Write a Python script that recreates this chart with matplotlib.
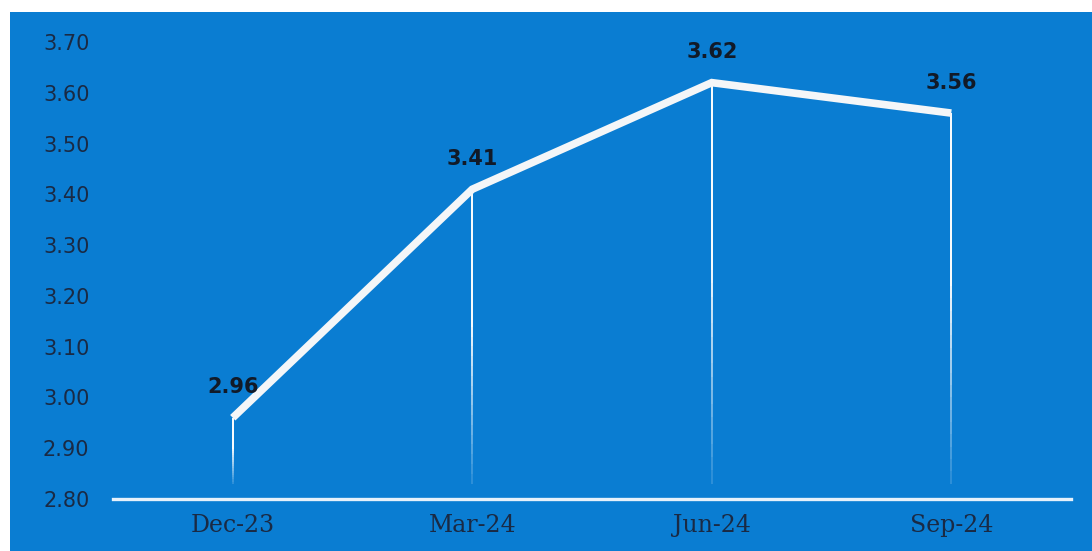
import numpy as np
import matplotlib.pyplot as plt
from matplotlib.patches import Rectangle

# data
quarters = ['Dec-23', 'Mar-24', 'Jun-24', 'Sep-24']
values = [2.96, 3.41, 3.62, 3.56]
yticks = [2.80, 2.90, 3.00, 3.10, 3.20, 3.30, 3.40, 3.50, 3.60, 3.70]

bg = '#0a7dd2'
txt = '#1a2a44'

fig = plt.figure(figsize=(10.92, 5.51), dpi=100, facecolor='white')
# blue panel behind everything
fig.patches.append(Rectangle((10 / 1092, 0), 1 - 10 / 1092, 539 / 551,
                             transform=fig.transFigure, facecolor=bg,
                             edgecolor='none', zorder=-10))

ax = fig.add_axes([113 / 1092, 52 / 551, 958 / 1092, 457 / 551])
ax.set_facecolor('none')
ax.set_zorder(1)
x = np.arange(len(quarters))

# drop lines fading towards the bottom
n = 30
for xi, v in zip(x, values):
    edges = np.linspace(2.83, v, n + 1)
    for k in range(n):
        a = min(1.0, 0.15 + 1.6 * k / n)
        ax.plot([xi, xi], [edges[k], edges[k + 1]], color='white',
                lw=1.4, alpha=a, solid_capstyle='butt', zorder=2)

ax.plot(x, values, color='#f4f6f8', lw=5.5, solid_capstyle='butt',
        solid_joinstyle='miter', zorder=3)

for xi, v in zip(x, values):
    ax.annotate(f'{v:.2f}', (xi, v), xytext=(0, 22), textcoords='offset points',
                ha='center', va='center', fontsize=15, fontweight='bold',
                color='#111a28', zorder=4)

ax.axhline(2.80, color='#e6f1fb', lw=2.4, zorder=3, clip_on=False)

ax.set_xlim(-0.5, 3.5)
ax.set_ylim(2.80, 3.70)
ax.set_yticks(yticks)
ax.set_yticklabels([f'{t:.2f}' for t in yticks], fontsize=15, color=txt)
ax.set_xticks(x)
ax.set_xticklabels(quarters, fontsize=17, color=txt, family='DejaVu Serif')
ax.tick_params(axis='y', length=0, pad=17)
ax.tick_params(axis='x', length=0, pad=11)
for s in ax.spines.values():
    s.set_visible(False)

fig.savefig('out.png', dpi=100, facecolor='white')
